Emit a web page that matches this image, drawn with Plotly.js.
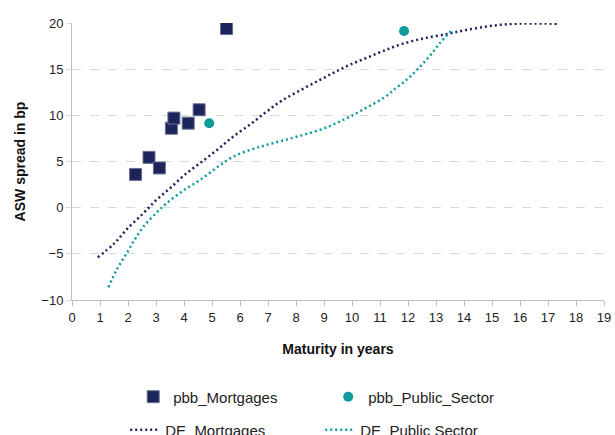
<!DOCTYPE html>
<html>
<head>
<meta charset="utf-8">
<script src="https://cdn.plot.ly/plotly-3.0.1.min.js"></script>
<style>html,body{margin:0;padding:0;background:#fff;}#chart{width:615px;height:435px;}</style>
</head>
<body>
<div id="chart"></div>
<script>
// pbb_Mortgages (scatter, squares)
const mortX = [2.27, 2.75, 3.12, 3.55, 3.64, 4.15, 4.54, 5.52];
const mortY = [3.6, 5.45, 4.3, 8.6, 9.7, 9.15, 10.6, 19.4];
// pbb_Public_Sector (scatter, circles)
const pubX = [4.9, 11.86];
const pubY = [9.15, 19.13];
// DE_Mortgages curve
const deMortX = [0.92, 1.5, 2.0, 2.55, 3.0, 3.5, 4.0, 4.57, 5.2, 5.76, 6.4, 6.95, 7.5, 8.14, 8.86, 9.4, 9.93, 10.5, 11.1, 11.71, 12.5, 13.38, 14.0, 14.69, 15.3, 15.88, 16.5, 17.31];
const deMortY = [-5.38, -3.9, -2.2, -0.6, 0.8, 2.1, 3.5, 4.82, 6.3, 7.7, 9.1, 10.4, 11.6, 12.69, 13.85, 14.7, 15.48, 16.2, 16.95, 17.65, 18.3, 18.8, 19.2, 19.56, 19.8, 19.92, 19.95, 19.92];
// DE_Public Sector curve
const dePubX = [1.3, 1.6, 1.95, 2.25, 2.55, 3.0, 3.38, 4.0, 4.57, 5.2, 5.76, 6.4, 6.95, 7.5, 8.14, 8.86, 9.4, 9.93, 10.5, 11.12, 11.55, 11.95, 12.25, 12.55, 12.85, 13.14, 13.56];
const dePubY = [-8.63, -6.7, -4.95, -3.4, -2.06, -0.6, 0.48, 1.9, 3.0, 4.4, 5.53, 6.3, 6.8, 7.25, 7.78, 8.43, 9.1, 9.87, 10.8, 11.87, 12.9, 13.85, 14.7, 15.66, 16.7, 17.83, 19.2];

const navy = '#1c2459';
const teal = '#0e9b9b';
const fontFam = '"Liberation Sans", Arial, sans-serif';

const traces = [
  {x: mortX, y: mortY, type: 'scatter', mode: 'markers', name: 'pbb_Mortgages',
   marker: {symbol: 'square', size: 12, color: navy, line: {width: 1, color: '#6a6f95'}}, legend: 'legend'},
  {x: pubX, y: pubY, type: 'scatter', mode: 'markers', name: 'pbb_Public_Sector',
   marker: {symbol: 'circle', size: 10, color: teal}, legend: 'legend'},
  {x: deMortX, y: deMortY, type: 'scatter', mode: 'lines', name: 'DE_Mortgages',
   line: {color: navy, width: 2.5, dash: '2px,3px', shape: 'spline'}, legend: 'legend2'},
  {x: dePubX, y: dePubY, type: 'scatter', mode: 'lines', name: 'DE_Public Sector',
   line: {color: teal, width: 2.5, dash: '2px,3px', shape: 'spline'}, legend: 'legend2'}
];

const legendCommon = {
  orientation: 'h', xanchor: 'left', yanchor: 'middle',
  font: {family: fontFam, size: 15, color: '#222'},
  entrywidth: 150, entrywidthmode: 'pixels', bgcolor: 'rgba(0,0,0,0)'
};

const layout = {
  width: 615, height: 435,
  margin: {l: 72, r: 11, t: 23, b: 135, autoexpand: false},
  paper_bgcolor: '#fff', plot_bgcolor: '#fff',
  font: {family: fontFam, size: 13, color: '#222'},
  showlegend: true,
  legend: Object.assign({}, legendCommon, {x: 0.115, y: -0.350}),
  legend2: Object.assign({}, legendCommon, {x: 0.10, y: -0.469}),
  xaxis: {
    range: [0, 19], dtick: 1, tick0: 0, showgrid: false, zeroline: false,
    showline: true, linecolor: '#bfbfbf', linewidth: 1,
    ticks: 'outside', ticklen: 5, tickcolor: '#bfbfbf',
    tickfont: {family: fontFam, size: 13, color: '#222'},
    title: {text: 'Maturity in years', font: {family: fontFam, size: 14, color: '#111', weight: 'bold'}, standoff: 20}
  },
  yaxis: {
    range: [-10, 20], dtick: 5, tick0: 0, showgrid: true, gridcolor: '#d9d9d9', griddash: 'dash', gridwidth: 1,
    zeroline: false, showline: true, linecolor: '#bfbfbf', linewidth: 1,
    ticks: 'outside', ticklen: 5, tickcolor: '#d9d9d9',
    tickfont: {family: fontFam, size: 13, color: '#222'},
    title: {text: 'ASW spread in bp', font: {family: fontFam, size: 14, color: '#111', weight: 'bold'}, standoff: 12}
  }
};

Plotly.newPlot('chart', traces, layout, {displayModeBar: false, staticPlot: true});
</script>
</body>
</html>
